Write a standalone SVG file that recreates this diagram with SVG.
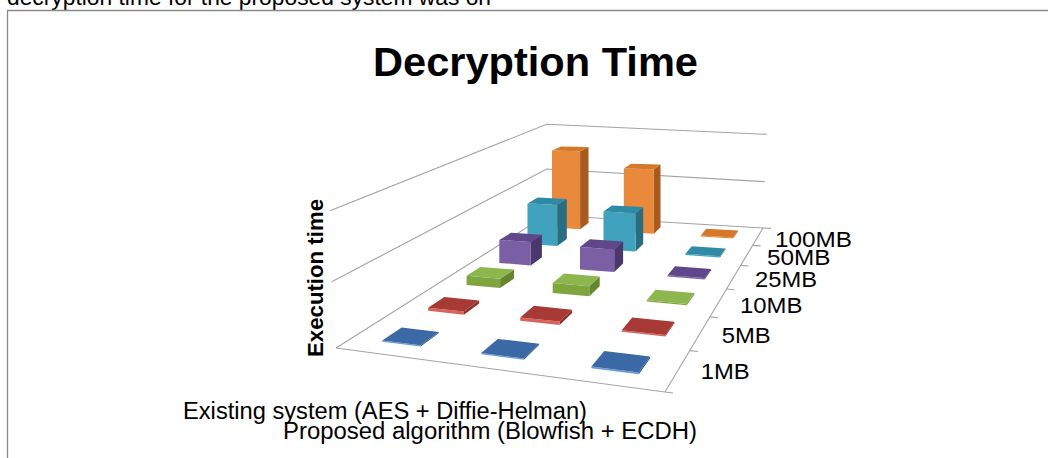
<svg xmlns="http://www.w3.org/2000/svg" width="1048" height="458" viewBox="0 0 1048 458">
  <style>
    .frame{fill:none;stroke:#8a8a8a;stroke-width:1.3}
    .grid{fill:none;stroke:#a3a3a3;stroke-width:1.1}
    .lbl{font-family:"Liberation Sans",Arial,sans-serif;fill:#000}
    .o .f{fill:#e9893b}.o .t{fill:#d6772a}.o .s{fill:#a75b1c}
    .c .f{fill:#41a2bd}.c .t{fill:#2f8aa5}.c .s{fill:#276e82}
    .p .f{fill:#7b5fa5}.p .t{fill:#5f4789}.p .s{fill:#4a376b}
    .g .f{fill:#7fa53f}.g .t{fill:#8db64e}.g .s{fill:#65862f}
    .r .f{fill:#d9625d}.r .t{fill:#a83a36}.r .s{fill:#8e2f2c}
    .b .f{fill:#6a9bd8}.b .t{fill:#3a69a5}.b .s{fill:#2f5586}
  </style>

  <rect width="1048" height="458" fill="#fff"/>

  <!-- running text above the chart frame -->
  <text class="lbl" x="7" y="4.5" font-size="22" textLength="484" lengthAdjust="spacingAndGlyphs" fill="#1a1a1a">decryption time for the proposed system was on</text>

  <!-- chart frame -->
  <path class="frame" d="M7.5,458 V10.5 H1048"/>

  <!-- title -->
  <text id="title" class="lbl" x="373" y="76" font-size="40" font-weight="bold" textLength="325" lengthAdjust="spacingAndGlyphs">Decryption Time</text>

  <!-- walls, floor and depth-axis ticks -->
  <g id="axes">
    <polyline class="grid" points="330,210.7 546.7,124.3 766.7,134.3"/>
    <polyline class="grid" points="331.7,281.7 546.7,169 765,181.7"/>
    <polyline class="grid" points="336,348 546.7,215 763,228"/>
    <polyline class="grid" points="336,348 665,392 763,228"/>
    <path class="grid" d="M665,392 l8,1 M689.8,350.6 l8,0.9 M709.9,316.9 l8,0.8 M726.6,289 l8,0.7 M740.6,265.4 l8,0.6 M752.6,245.4 l8,0.5 M763,228 l8,0.4"/>
  </g>

  <!-- bars, drawn back to front -->
  <g id="bars">
    <g id="bar-existing-100MB" class="o">
      <polygon class="s" points="580.1,229.2 588.5,223.1 588.5,147.0 580.1,151.2"/>
      <polygon class="f" points="552.0,227.5 580.1,229.2 580.1,151.2 552.0,150.5"/>
      <polygon class="t" points="552.0,150.5 580.1,151.2 588.5,147.0 561.0,146.5"/>
    </g>
    <g id="bar-proposed-100MB" class="o">
      <polygon class="s" points="653.9,233.7 660.5,227.2 660.5,164.6 653.9,169.3"/>
      <polygon class="f" points="623.8,231.9 653.9,233.7 653.9,169.3 623.8,168.4"/>
      <polygon class="t" points="623.8,168.4 653.9,169.3 660.5,164.6 631.1,163.7"/>
    </g>
    <g id="bar-c3-100MB" class="o">
      <polygon class="s" points="733.0,238.5 737.8,231.7 737.8,230.6 733.0,237.4"/>
      <polygon class="f" points="700.7,236.5 733.0,238.5 733.0,237.4 700.7,235.5"/>
      <polygon class="t" points="700.7,235.5 733.0,237.4 737.8,230.6 706.2,228.8"/>
    </g>

    <g id="bar-existing-50MB" class="c">
      <polygon class="s" points="557.2,246.1 566.8,239.0 566.8,198.9 557.2,204.8"/>
      <polygon class="f" points="527.5,244.0 557.2,246.1 557.2,204.8 527.5,203.4"/>
      <polygon class="t" points="527.5,203.4 557.2,204.8 566.8,198.9 537.7,197.6"/>
    </g>
    <g id="bar-proposed-50MB" class="c">
      <polygon class="s" points="635.5,251.5 643.2,244.1 643.2,206.9 635.5,213.2"/>
      <polygon class="f" points="603.5,249.3 635.5,251.5 635.5,213.2 603.5,211.6"/>
      <polygon class="t" points="603.5,211.6 635.5,213.2 643.2,206.9 611.9,205.4"/>
    </g>
    <g id="bar-c3-50MB" class="c">
      <polygon class="s" points="719.9,257.4 725.4,249.5 725.4,248.4 719.9,256.2"/>
      <polygon class="f" points="685.4,255.0 719.9,257.4 719.9,256.2 685.4,253.8"/>
      <polygon class="t" points="685.4,253.8 719.9,256.2 725.4,248.4 691.8,246.2"/>
    </g>

    <g id="bar-existing-25MB" class="p">
      <polygon class="s" points="530.8,265.5 541.9,257.3 541.9,234.7 530.8,242.1"/>
      <polygon class="f" points="499.3,262.9 530.8,265.5 530.8,242.1 499.3,240.0"/>
      <polygon class="t" points="499.3,240.0 530.8,242.1 541.9,234.7 511.1,232.7"/>
    </g>
    <g id="bar-proposed-25MB" class="p">
      <polygon class="s" points="614.2,272.1 623.1,263.5 623.1,241.5 614.2,249.4"/>
      <polygon class="f" points="580.0,269.4 614.2,272.1 614.2,249.4 580.0,247.1"/>
      <polygon class="t" points="580.0,247.1 614.2,249.4 623.1,241.5 589.8,239.3"/>
    </g>
    <g id="bar-c3-25MB" class="p">
      <polygon class="s" points="704.7,279.4 711.1,270.2 711.1,268.9 704.7,278.1"/>
      <polygon class="f" points="667.6,276.4 704.7,279.4 704.7,278.1 667.6,275.2"/>
      <polygon class="t" points="667.6,275.2 704.7,278.1 711.1,268.9 675.0,266.2"/>
    </g>

    <g id="bar-existing-10MB" class="g">
      <polygon class="s" points="500.1,288.1 514.0,278.6 514.0,269.6 500.1,278.8"/>
      <polygon class="f" points="466.6,284.9 500.1,288.1 500.1,278.8 466.6,275.8"/>
      <polygon class="t" points="466.6,275.8 500.1,278.8 514.0,269.6 480.3,266.9"/>
    </g>
    <g id="bar-proposed-10MB" class="g">
      <polygon class="s" points="589.3,296.3 599.7,286.2 599.7,276.4 589.3,286.2"/>
      <polygon class="f" points="552.7,292.9 589.3,296.3 589.3,286.2 552.7,283.0"/>
      <polygon class="t" points="552.7,283.0 589.3,286.2 599.7,276.4 564.1,273.4"/>
    </g>
    <g id="bar-c3-10MB" class="g">
      <polygon class="s" points="686.7,305.3 694.3,294.4 694.3,293.1 686.7,304.0"/>
      <polygon class="f" points="646.7,301.6 686.7,305.3 686.7,304.0 646.7,300.3"/>
      <polygon class="t" points="646.7,300.3 686.7,304.0 694.3,293.1 655.5,289.7"/>
    </g>

    <g id="bar-existing-5MB" class="r">
      <polygon class="s" points="463.9,314.7 479.1,303.5 479.1,300.4 463.9,311.5"/>
      <polygon class="f" points="428.1,310.8 463.9,314.7 463.9,311.5 428.1,307.7"/>
      <polygon class="t" points="428.1,307.7 463.9,311.5 479.1,300.4 444.3,296.9"/>
    </g>
    <g id="bar-proposed-5MB" class="r">
      <polygon class="s" points="559.6,325.0 572.1,312.9 572.1,309.7 559.6,321.6"/>
      <polygon class="f" points="520.2,320.8 559.6,325.0 559.6,321.6 520.2,317.5"/>
      <polygon class="t" points="520.2,317.5 559.6,321.6 572.1,309.7 533.9,305.8"/>
    </g>
    <g id="bar-c3-5MB" class="r">
      <polygon class="s" points="665.2,336.4 674.3,323.3 674.3,321.8 665.2,334.9"/>
      <polygon class="f" points="621.7,331.7 665.2,336.4 665.2,334.9 621.7,330.2"/>
      <polygon class="t" points="621.7,330.2 665.2,334.9 674.3,321.8 632.2,317.6"/>
    </g>

    <g id="bar-existing-1MB" class="b">
      <polygon class="s" points="420.6,346.5 438.9,333.1 438.9,331.9 420.6,345.3"/>
      <polygon class="f" points="382.2,341.7 420.6,346.5 420.6,345.3 382.2,340.5"/>
      <polygon class="t" points="382.2,340.5 420.6,345.3 438.9,331.9 401.6,327.5"/>
    </g>
    <g id="bar-proposed-1MB" class="b">
      <polygon class="s" points="523.9,359.7 539.0,345.0 539.0,343.7 523.9,358.4"/>
      <polygon class="f" points="481.2,354.2 523.9,359.7 523.9,358.4 481.2,353.0"/>
      <polygon class="t" points="481.2,353.0 523.9,358.4 539.0,343.7 497.8,338.9"/>
    </g>
    <g id="bar-c3-1MB" class="b">
      <polygon class="s" points="638.9,374.3 650.1,358.2 650.1,356.6 638.9,372.6"/>
      <polygon class="f" points="591.4,368.2 638.9,374.3 638.9,372.6 591.4,366.6"/>
      <polygon class="t" points="591.4,366.6 638.9,372.6 650.1,356.6 604.2,351.1"/>
    </g>
  </g>

  <!-- depth-axis labels -->
  <g id="depth-labels" class="lbl" font-size="22">
    <text x="775" y="246.7" textLength="77" lengthAdjust="spacingAndGlyphs">100MB</text>
    <text x="767" y="265" textLength="63.5" lengthAdjust="spacingAndGlyphs">50MB</text>
    <text x="755" y="287.3" textLength="62" lengthAdjust="spacingAndGlyphs">25MB</text>
    <text x="740" y="313.3" textLength="62.5" lengthAdjust="spacingAndGlyphs">10MB</text>
    <text x="721.7" y="343.3" textLength="49" lengthAdjust="spacingAndGlyphs">5MB</text>
    <text x="700.7" y="379.3" textLength="49" lengthAdjust="spacingAndGlyphs">1MB</text>
  </g>

  <!-- vertical axis title -->
  <text id="y-title" class="lbl" transform="translate(322.5,278) rotate(-90)" text-anchor="middle" font-size="22.5" font-weight="bold" textLength="158" lengthAdjust="spacingAndGlyphs">Execution time</text>

  <!-- category labels -->
  <g id="category-labels" class="lbl" font-size="23.5">
    <text x="183" y="419" textLength="404" lengthAdjust="spacingAndGlyphs">Existing system (AES + Diffie-Helman)</text>
    <text x="283" y="439" textLength="414" lengthAdjust="spacingAndGlyphs">Proposed algorithm (Blowfish + ECDH)</text>
  </g>
</svg>
